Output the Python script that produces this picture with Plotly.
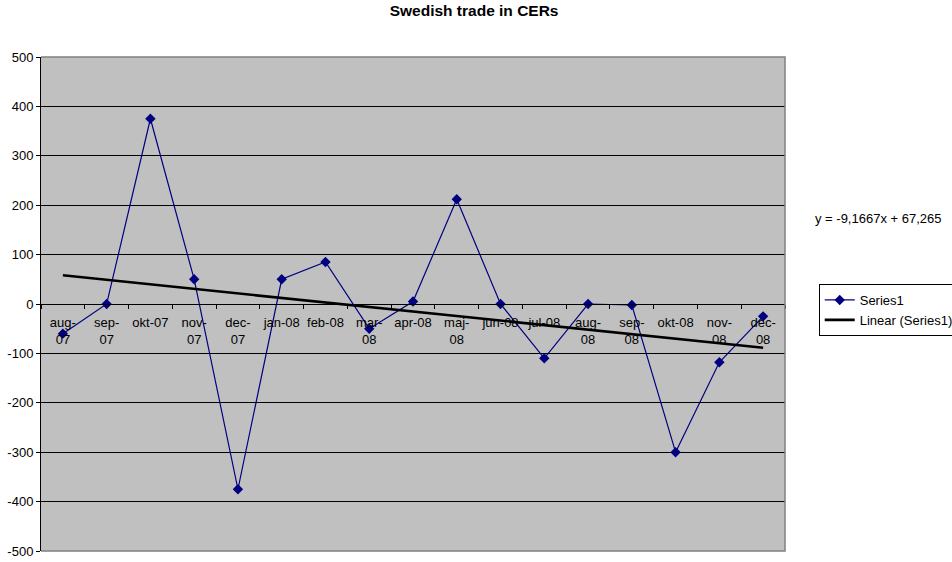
import plotly.graph_objects as go

# Monthly net trade in CERs
months = ["aug-07", "sep-07", "okt-07", "nov-07", "dec-07", "jan-08", "feb-08", "mar-08",
          "apr-08", "maj-08", "jun-08", "jul-08", "aug-08", "sep-08", "okt-08", "nov-08", "dec-08"]
month_labels = ["aug-<br>07", "sep-<br>07", "okt-07", "nov-<br>07", "dec-<br>07", "jan-08", "feb-08",
                "mar-<br>08", "apr-08", "maj-<br>08", "jun-08", "jul-08", "aug-<br>08", "sep-<br>08",
                "okt-08", "nov-<br>08", "dec-<br>08"]
series1 = [-60, 0, 375, 50, -375, 50, 85, -50, 5, 212, 0, -110, 0, -2, -300, -118, -25]

# Linear trend coefficients (as shown in the equation label)
trend_slope = -9.1667
trend_intercept = 67.265

y_ticks = [-500, -400, -300, -200, -100, 0, 100, 200, 300, 400, 500]
y_tick_labels = ["-500", "-400", "-300", "-200", "-100", "0", "100", "200", "300", "400", "500"]

trend = [trend_slope * (i + 1) + trend_intercept for i in range(len(months))]

font_family = "Liberation Sans, Arial, sans-serif"

fig = go.Figure()
fig.add_trace(go.Scatter(
    x=months, y=series1, name="Series1", mode="lines+markers",
    line=dict(color="#000080", width=1.2),
    marker=dict(symbol="diamond", size=8, color="#000080"),
))
fig.add_trace(go.Scatter(
    x=months, y=trend, name="Linear (Series1)", mode="lines",
    line=dict(color="#000000", width=2.6),
))

# Gray frame on top, right and bottom of the plot area
fig.add_shape(type="path", xref="paper", yref="paper",
              path="M 0 1 L 1 1 L 1 0 L 0 0", line=dict(color="#808080", width=1.5),
              layer="above")

fig.add_annotation(
    text="y = -9,1667x + 67,265", xref="paper", yref="paper",
    x=1.037, y=0.673, xanchor="left", yanchor="middle", showarrow=False,
    font=dict(family=font_family, size=13, color="#000000"),
)

fig.update_layout(
    width=952, height=562,
    margin=dict(l=41, r=167, t=57, b=11, autoexpand=False),
    paper_bgcolor="#FFFFFF",
    plot_bgcolor="#C0C0C0",
    font=dict(family=font_family, size=13, color="#000000"),
    title=dict(text="<b>Swedish trade in CERs</b>", x=0.498, xref="container",
               y=0.981, yref="container", xanchor="center", yanchor="middle",
               font=dict(family=font_family, size=15.5, color="#000000")),
    showlegend=True,
    legend=dict(
        xref="container", yref="container", x=0.860, y=1 - 284 / 562,
        xanchor="left", yanchor="top",
        bordercolor="#000000", borderwidth=1, bgcolor="#FFFFFF",
        font=dict(family=font_family, size=13, color="#000000"),
        tracegroupgap=0, itemwidth=30,
    ),
    xaxis=dict(
        type="category", categoryorder="array", categoryarray=months,
        tickmode="array", tickvals=months, ticktext=month_labels,
        range=[-0.5, len(months) - 0.5],
        anchor="free", position=0.5,
        showline=True, linecolor="#000000", linewidth=1,
        ticks="outside", tickson="boundaries", ticklen=4, tickcolor="#000000",
        tickangle=0, ticklabelstandoff=6,
        showgrid=False, zeroline=False,
        tickfont=dict(family=font_family, size=13, color="#000000"),
    ),
    yaxis=dict(
        range=[-500, 500], tickmode="array", tickvals=y_ticks, ticktext=y_tick_labels,
        showline=True, linecolor="#000000", linewidth=1,
        ticks="outside", ticklen=4, tickcolor="#000000",
        showgrid=True, gridcolor="#000000", gridwidth=1,
        zeroline=False,
        tickfont=dict(family=font_family, size=13, color="#000000"),
    ),
)

fig.write_html("out.html")
